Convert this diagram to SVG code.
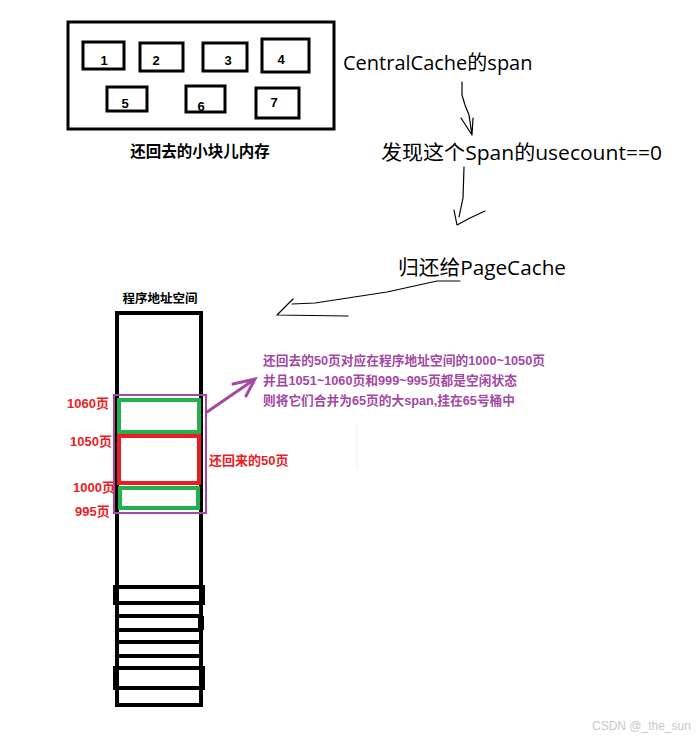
<svg xmlns="http://www.w3.org/2000/svg" width="696" height="740" viewBox="0 0 696 740">
<style>
.blk{fill:none;stroke:#000;stroke-width:3}
.num{font-family:"Liberation Sans","Noto Sans CJK SC",sans-serif;font-weight:bold;font-size:13px;fill:#000;text-anchor:middle}
.big{font-family:"Open Sans","Noto Sans CJK SC",sans-serif;font-size:20px;fill:#000}
.bl{font-family:"Liberation Sans","Noto Sans CJK SC",sans-serif;font-weight:bold;fill:#000}
.red{font-family:"Liberation Sans","Noto Sans CJK SC",sans-serif;font-weight:bold;font-size:13px;fill:#ed1c24}
.pur{font-family:"Liberation Sans","Noto Sans CJK SC",sans-serif;font-weight:bold;font-size:13px;fill:#a349a4}
.pen{fill:none;stroke:#000;stroke-width:1.2;stroke-linecap:round;stroke-linejoin:round}
</style>
<rect width="696" height="740" fill="#fff"/>
<g id="blocks">
<rect class="blk" x="68" y="22" width="266" height="107"/>
<rect class="blk" x="83" y="42" width="41" height="27"/>
<rect class="blk" x="140" y="43" width="43" height="28"/>
<rect class="blk" x="203" y="43" width="44" height="28"/>
<rect class="blk" x="262" y="39" width="47" height="33"/>
<rect class="blk" x="107" y="87" width="40" height="24"/>
<rect class="blk" x="186" y="86" width="39" height="26"/>
<rect class="blk" x="256" y="88" width="43" height="30"/>
<text class="num" x="104" y="65">1</text>
<text class="num" x="156" y="65">2</text>
<text class="num" x="228" y="65">3</text>
<text class="num" x="281" y="64">4</text>
<text class="num" x="125" y="108">5</text>
<text class="num" x="201" y="111">6</text>
<text class="num" x="274" y="107">7</text>
<text class="bl" x="200" y="157" font-size="15.5" text-anchor="middle">还回去的小块儿内存</text>
</g>
<g id="central"><text class="big" x="343" y="70">CentralCache的span</text></g>
<g id="found"><text class="big" x="381" y="160" textLength="281" lengthAdjust="spacingAndGlyphs">发现这个Span的usecount==0</text></g>
<g id="return"><text class="big" x="398" y="275" textLength="168" lengthAdjust="spacingAndGlyphs">归还给PageCache</text></g>
<g id="connectors">
<path class="pen" d="M462 82 L462 95 L465 105 L469 115 L472 135 M461 118 L472 135 M473 118 L472 135"/>
<path class="pen" d="M464 167 L463 198 L459 217 M454 210 L457 225 L470 218 L485 211"/>
<path class="pen" d="M460 281 L437 281 L387 292 L315 303 L292 304 M293 299 L277 315 L348 316"/>
<path fill="none" stroke="#a349a4" stroke-width="3" stroke-linecap="round" d="M207 412 L255 379 M233 384 L255 379 L246 396"/>
</g>
<g id="address-space">
<text class="bl" x="160" y="303" font-size="12.5" text-anchor="middle">程序地址空间</text>
<rect x="117" y="313" width="84" height="392" fill="none" stroke="#000" stroke-width="4"/>
<rect x="115" y="587" width="88" height="16" fill="none" stroke="#000" stroke-width="4"/>
<line x1="117" y1="616" x2="201" y2="616" stroke="#000" stroke-width="4"/>
<line x1="117" y1="630" x2="203" y2="630" stroke="#000" stroke-width="4"/>
<line x1="201" y1="616" x2="201" y2="630" stroke="#000" stroke-width="6"/>
<line x1="117" y1="642" x2="201" y2="642" stroke="#000" stroke-width="4"/>
<line x1="117" y1="656" x2="201" y2="656" stroke="#000" stroke-width="4"/>
<rect x="115" y="668" width="88" height="20" fill="none" stroke="#000" stroke-width="4"/>
<rect x="119" y="400" width="80" height="32" fill="#fff" stroke="#22b14c" stroke-width="4"/>
<rect x="119" y="436" width="80" height="47" fill="#fff" stroke="#ed1c24" stroke-width="4"/>
<rect x="120" y="488" width="78" height="20" fill="#fff" stroke="#22b14c" stroke-width="4"/>
<rect x="114" y="395" width="92" height="118" fill="none" stroke="#a349a4" stroke-width="2"/>
<text class="red" x="67" y="408">1060页</text>
<text class="red" x="70" y="446">1050页</text>
<text class="red" x="73" y="492">1000页</text>
<text class="red" x="75" y="516">995页</text>
<text class="red" x="209" y="465">还回来的50页</text>
</g>
<g id="note">
<text class="pur" x="263" y="365" textLength="282" lengthAdjust="spacingAndGlyphs">还回去的50页对应在程序地址空间的1000~1050页</text>
<text class="pur" x="263" y="385" textLength="254" lengthAdjust="spacingAndGlyphs">并且1051~1060页和999~995页都是空闲状态</text>
<text class="pur" x="263" y="405" textLength="252" lengthAdjust="spacingAndGlyphs">则将它们合并为65页的大span,挂在65号桶中</text>
</g>
<line x1="357" y1="423" x2="357" y2="470" stroke="#eeeeee" stroke-width="1"/>
<text x="592" y="730" font-family="Liberation Sans, sans-serif" font-size="12" fill="#c8c8c8">CSDN @_the_sun</text>
</svg>
